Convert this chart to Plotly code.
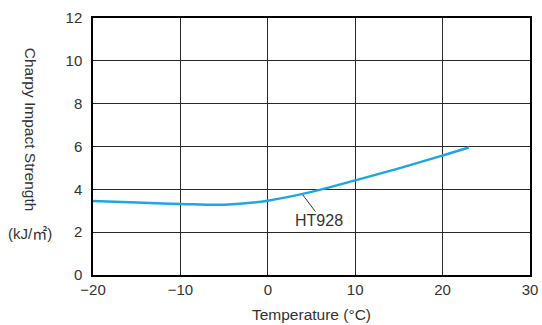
import plotly.graph_objects as go

temperature = [-20, -15, -10, -5, 0, 5, 10, 15, 20, 23]
strength = [3.45, 3.38, 3.32, 3.28, 3.47, 3.88, 4.42, 4.98, 5.58, 5.95]
series_name = "HT928"
x_ticks = [-20, -10, 0, 10, 20, 30]
y_ticks = [0, 2, 4, 6, 8, 10, 12]

font_family = "Liberation Sans, Arial, sans-serif"
text_color = "#333333"
grid_color = "#2a2a2a"

fig = go.Figure()
fig.add_trace(go.Scatter(
    x=temperature, y=strength, mode="lines", name=series_name,
    line=dict(color="#1ea6e4", width=2.5, shape="spline", smoothing=1.0),
    showlegend=False, hoverinfo="skip",
))

fig.update_layout(
    width=542, height=325,
    margin=dict(l=93, r=12, t=18, b=50, autoexpand=False),
    paper_bgcolor="white", plot_bgcolor="white",
    font=dict(family=font_family, size=15, color=text_color),
    xaxis=dict(
        range=[-20, 30], tickvals=x_ticks, showgrid=True, gridcolor=grid_color, gridwidth=1.2,
        showline=True, linecolor="black", linewidth=1.5, mirror=True, zeroline=False,
        ticks="", tickfont=dict(size=15, color=text_color), automargin=False,
        title=dict(text="Temperature (°C)", font=dict(size=15.5, color=text_color), standoff=12),
    ),
    yaxis=dict(
        range=[0, 12], tickvals=y_ticks, showgrid=True, gridcolor=grid_color, gridwidth=1.2,
        showline=True, linecolor="black", linewidth=1.5, mirror=True, zeroline=False,
        ticks="", tickfont=dict(size=15, color=text_color), ticklabelstandoff=6,
        automargin=False,
    ),
)

# y-axis title (reads top to bottom) and unit
fig.add_annotation(
    text="Charpy Impact Strength", textangle=90, xref="paper", yref="paper",
    x=-0.144, y=0.565, showarrow=False, font=dict(size=15.5, color=text_color),
    xanchor="center", yanchor="middle",
)
fig.add_annotation(
    text="(kJ/<span style=\"font-family:'Noto Sans CJK JP'\">㎡</span>)", xref="paper", yref="paper",
    x=-0.144, y=0.165, showarrow=False, font=dict(size=15, color=text_color),
    xanchor="center", yanchor="middle",
)

# series label with leader line
fig.add_shape(type="line", x0=4.0, y0=3.74, x1=5.45, y1=2.96,
              xref="x", yref="y", line=dict(color="#333333", width=1))
fig.add_annotation(
    text=series_name, x=5.9, y=2.55, xref="x", yref="y", showarrow=False,
    font=dict(size=16, color=text_color), xanchor="center", yanchor="middle",
)

fig.write_html("out.html", config={"displayModeBar": False},
               post_script="document.body.style.margin='0';document.body.style.overflow='hidden';")
